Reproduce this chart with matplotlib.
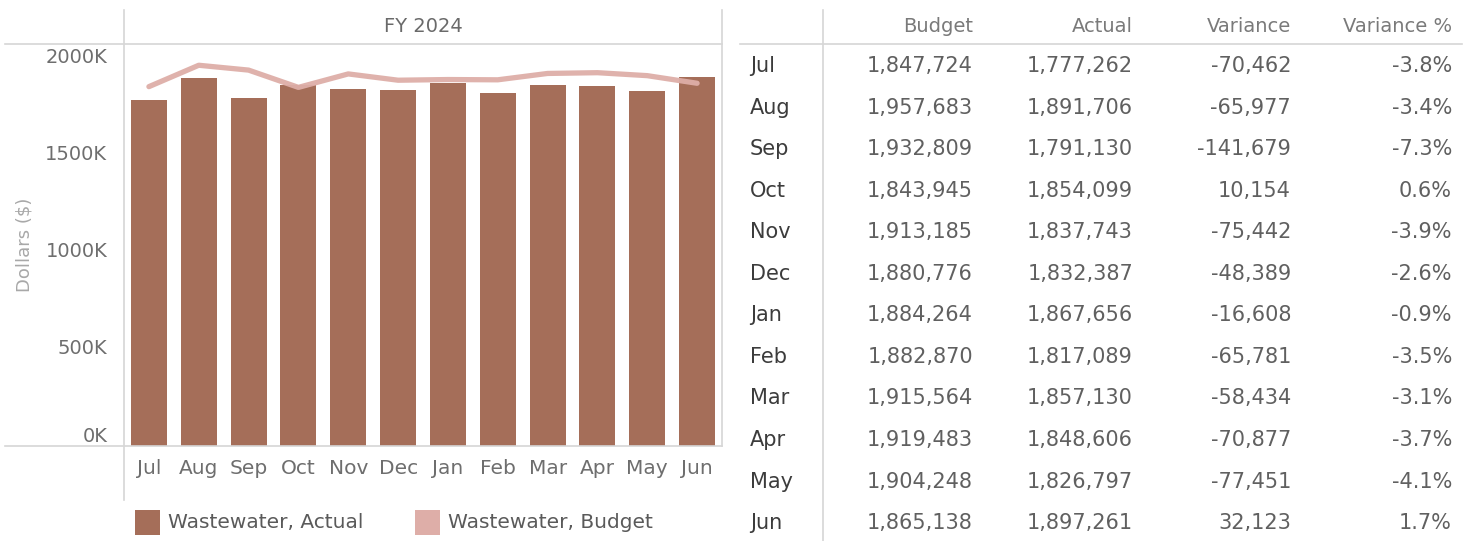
import matplotlib
matplotlib.use("Agg")
import matplotlib.pyplot as plt
from matplotlib.lines import Line2D
from matplotlib.patches import Rectangle
from matplotlib.ticker import FuncFormatter

plt.rcParams['font.family'] = ['DejaVu Sans']

months = ["Jul", "Aug", "Sep", "Oct", "Nov", "Dec", "Jan", "Feb", "Mar", "Apr", "May", "Jun"]
budget = [1847724, 1957683, 1932809, 1843945, 1913185, 1880776,
          1884264, 1882870, 1915564, 1919483, 1904248, 1865138]
actual = [1777262, 1891706, 1791130, 1854099, 1837743, 1832387,
          1867656, 1817089, 1857130, 1848606, 1826797, 1897261]
yticks = [0, 500000, 1000000, 1500000, 2000000]
headers = ["Budget", "Actual", "Variance", "Variance %"]
title = "FY 2024"
legend_labels = ["Wastewater, Actual", "Wastewater, Budget"]

variance = [a - b for a, b in zip(actual, budget)]
variance_pct = [v / b * 100 for v, b in zip(variance, budget)]

W, H = 1466, 541
fig = plt.figure(figsize=(W / 100, H / 100), dpi=100)
fig.patch.set_facecolor("white")


def fx(x):
    return x / W


def fy(y):
    return 1 - y / H


BAR = "#a56e59"
LINE = "#deaea8"
GRID = "#d6d6d6"

# ---- chart pane ----
ax = fig.add_axes([fx(124), fy(446), fx(722) - fx(124), fy(44) - fy(446)])
x = list(range(len(months)))
ax.bar(x, actual, width=0.72, color=BAR, zorder=2)
ax.plot(x, budget, color=LINE, lw=3.8, solid_capstyle="round",
        solid_joinstyle="round", alpha=0.95, zorder=3)
ax.set_xlim(-0.5, len(months) - 0.5)
ax.set_ylim(0, 2067000)
ax.set_yticks(yticks)
ax.yaxis.set_major_formatter(FuncFormatter(lambda v, p: f"{int(v / 1000)}K"))
ax.set_xticks(x)
ax.set_xticklabels(months)
ax.tick_params(axis="y", length=0, pad=12, labelsize=14, labelcolor="#6e6e6e")
ax.tick_params(axis="x", length=0, pad=9, labelsize=14.5, labelcolor="#6e6e6e")
for lbl in ax.get_yticklabels():
    lbl.set_verticalalignment("center")
ax.get_yticklabels()[0].set_verticalalignment("bottom")
for s in ax.spines.values():
    s.set_visible(False)

fig.text(fx(25), fy(245), "Dollars ($)", rotation=90, ha="center", va="center",
         fontsize=13, color="#a8a8a8")
fig.text(fx(423), fy(27), title, ha="center", va="center", fontsize=14, color="#6a6a6a")

# pane separators
for (x0, y0, x1, y1) in [(5, 44, 722, 44), (5, 446, 722, 446),
                         (124, 10, 124, 500), (722, 10, 722, 446),
                         (740, 44, 1462, 44), (823, 10, 823, 541)]:
    fig.add_artist(Line2D([fx(x0), fx(x1)], [fy(y0), fy(y1)], color=GRID, lw=1.2))

# legend
for i, (lab, col) in enumerate(zip(legend_labels, [BAR, LINE])):
    sx = 135 + i * 280
    fig.add_artist(Rectangle((fx(sx), fy(535)), fx(25), fy(510) - fy(535),
                             facecolor=col, edgecolor="none"))
    fig.text(fx(sx + 33), fy(522), lab, ha="left", va="center", fontsize=14.5,
             color="#5a5a5a")

# ---- table pane ----
col_x = [973, 1133, 1291, 1452]
for hx, h in zip(col_x, headers):
    fig.text(fx(hx), fy(27), h, ha="right", va="center", fontsize=14, color="#7a7a7a")

row_y0, row_dy = 66, 41.55
for i, m in enumerate(months):
    y = row_y0 + i * row_dy
    fig.text(fx(750), fy(y), m, ha="left", va="center", fontsize=15,
             color="#3c3c3c")
    vals = [f"{budget[i]:,}", f"{actual[i]:,}", f"{variance[i]:,}",
            f"{variance_pct[i]:.1f}%"]
    for cx, v in zip(col_x, vals):
        fig.text(fx(cx), fy(y), v, ha="right", va="center", fontsize=15,
                 color="#606060")

fig.savefig("out.png", dpi=100, facecolor="white")
